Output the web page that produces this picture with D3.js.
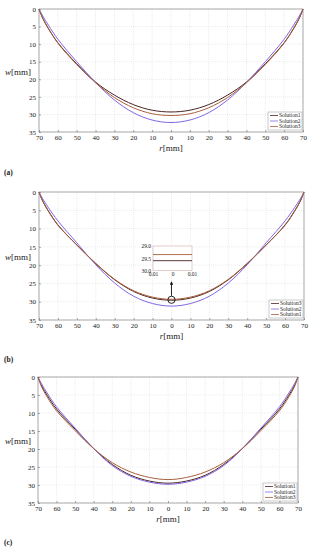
<!DOCTYPE html>
<html>
<head>
<meta charset="utf-8">
<script src="https://cdn.jsdelivr.net/npm/d3@7"></script>
<style>
  body { margin: 0; background: #fff; }
  svg text { font-family: "Liberation Serif", "DejaVu Serif", serif; }
</style>
</head>
<body>
<div id="chart"></div>
<script>
// radius positions (mm), shared by all curves
var rVals = [-70, -68, -65, -60, -50, -40, -30, -20, -10, 0, 10, 20, 30, 40, 50, 60, 65, 68, 70];
var xTicks = [-70, -60, -50, -40, -30, -20, -10, 0, 10, 20, 30, 40, 50, 60, 70];
var yTicks = [0, 5, 10, 15, 20, 25, 30, 35];

// deflection w (mm), panel (a)
var a_sol1 = [0, 2.7, 5.6, 9.6, 15.6, 20.8, 24.5, 27.2, 28.8, 29.3, 28.8, 27.2, 24.5, 20.8, 15.6, 9.6, 5.6, 2.7, 0];
var a_sol2 = [0, 2.0, 4.6, 8.6, 15.0, 20.9, 25.9, 29.5, 31.6, 32.3, 31.6, 29.5, 25.9, 20.9, 15.0, 8.6, 4.6, 2.0, 0];
var a_sol3 = [0, 2.6, 5.5, 9.7, 15.8, 21.0, 25.2, 28.1, 29.8, 30.3, 29.8, 28.1, 25.2, 21.0, 15.8, 9.7, 5.5, 2.6, 0];

// panel (b)
var b_sol3 = [0, 2.5, 5.2, 9.0, 14.5, 19.6, 24.0, 27.2, 29.0, 29.6, 29.0, 27.2, 24.0, 19.6, 14.5, 9.0, 5.2, 2.5, 0];
var b_sol2 = [0, 1.9, 4.3, 7.9, 13.9, 19.9, 24.9, 28.5, 30.5, 31.2, 30.5, 28.5, 24.9, 19.9, 13.9, 7.9, 4.3, 1.9, 0];
var b_sol1 = [0, 2.6, 5.3, 9.1, 14.5, 19.5, 23.9, 27.0, 28.75, 29.35, 28.75, 27.0, 23.9, 19.5, 14.5, 9.1, 5.3, 2.6, 0];

// panel (c)
var c_sol1 = [0, 2.5, 5.1, 8.9, 14.5, 19.9, 24.3, 27.3, 28.9, 29.5, 28.9, 27.3, 24.3, 19.9, 14.5, 8.9, 5.1, 2.5, 0];
var c_sol2 = [0, 2.0, 4.5, 8.3, 14.2, 19.9, 24.6, 27.6, 29.2, 29.8, 29.2, 27.6, 24.6, 19.9, 14.2, 8.3, 4.5, 2.0, 0];
var c_sol3 = [0, 2.8, 5.6, 9.4, 14.9, 19.9, 23.8, 26.4, 27.9, 28.5, 27.9, 26.4, 23.8, 19.9, 14.9, 9.4, 5.6, 2.8, 0];

// inset of (b)
var insetXTicks = [-0.01, 0, 0.01];
var insetYTicks = [29.0, 29.5, 30.0];

var cDark = "#4a2424", cPurple = "#8266e4", cBrown = "#a8603c";

var svg = d3.select("#chart").append("svg")
    .attr("width", 310)
    .attr("height", 550);

function drawPanel(p) {
    var x = d3.scaleLinear().domain([-70, 70]).range([p.left, p.right]);
    var y = d3.scaleLinear().domain([0, 35]).range([p.top, p.bottom]);
    var g = svg.append("g");

    // grid
    g.selectAll(".gx").data(xTicks).enter().append("line")
        .attr("x1", d => x(d)).attr("x2", d => x(d))
        .attr("y1", p.top).attr("y2", p.bottom)
        .attr("stroke", "#d8d8d8").attr("stroke-width", 0.5)
        .attr("stroke-dasharray", "1,1");
    g.selectAll(".gy").data(yTicks).enter().append("line")
        .attr("x1", p.left).attr("x2", p.right)
        .attr("y1", d => y(d)).attr("y2", d => y(d))
        .attr("stroke", "#d8d8d8").attr("stroke-width", 0.5)
        .attr("stroke-dasharray", "1,1");

    // axes
    var xAxis = d3.axisBottom(x).tickValues(xTicks).tickSize(-2).tickPadding(3)
        .tickFormat(d => Math.abs(d));
    var gx = g.append("g").attr("transform", "translate(0," + p.bottom + ")").call(xAxis);
    var yAxis = d3.axisLeft(y).tickValues(yTicks).tickSize(-2).tickPadding(3);
    var gy = g.append("g").attr("transform", "translate(" + p.left + ",0)").call(yAxis);
    [gx, gy].forEach(function (a) {
        a.select(".domain").remove();
        a.selectAll("line").attr("stroke", "#555").attr("stroke-width", 0.5);
        a.selectAll("text").attr("font-size", 7).attr("fill", "#222")
            .style("font-family", "Liberation Serif, serif");
    });

    g.append("rect")
        .attr("x", p.left).attr("y", p.top)
        .attr("width", p.right - p.left).attr("height", p.bottom - p.top)
        .attr("fill", "none").attr("stroke", "#777").attr("stroke-width", 0.6);

    // curves
    var line = d3.line()
        .x((d, i) => x(rVals[i]))
        .y(d => y(d))
        .curve(d3.curveCatmullRom.alpha(0.5));
    p.series.forEach(function (s) {
        g.append("path").datum(s.values)
            .attr("d", line)
            .attr("fill", "none")
            .attr("stroke", s.color)
            .attr("stroke-width", 1);
    });

    // labels
    var xl = g.append("text")
        .attr("x", (p.left + p.right) / 2).attr("y", p.bottom + 19)
        .attr("text-anchor", "middle").attr("font-size", 9).attr("fill", "#222");
    xl.append("tspan").attr("font-style", "italic").text("r");
    xl.append("tspan").text("[mm]");
    var yl = g.append("text")
        .attr("x", 5).attr("y", y(17.8) + 3)
        .attr("font-size", 9).attr("fill", "#222");
    yl.append("tspan").attr("font-style", "italic").text("w");
    yl.append("tspan").text("[mm]");

    g.append("text")
        .attr("x", 4).attr("y", p.label_y)
        .attr("font-size", 7.5).attr("font-weight", "bold").attr("fill", "#222")
        .text(p.label);

    // legend
    var lw = 34, lh = 18;
    var lx = p.right - lw - 1, ly = p.bottom - lh - 2;
    g.append("rect")
        .attr("x", lx).attr("y", ly).attr("width", lw).attr("height", lh)
        .attr("fill", "#fff").attr("stroke", "#999").attr("stroke-width", 0.5);
    p.series.forEach(function (s, i) {
        var yy = ly + 3.5 + i * 5.5;
        g.append("line")
            .attr("x1", lx + 2).attr("x2", lx + 10)
            .attr("y1", yy).attr("y2", yy)
            .attr("stroke", s.color).attr("stroke-width", 0.8);
        g.append("text")
            .attr("x", lx + 11).attr("y", yy + 1.8)
            .attr("font-size", 5.5).attr("fill", "#222")
            .text(s.name);
    });
    return { x: x, y: y, g: g };
}

drawPanel({
    left: 39, right: 303, top: 9, bottom: 132, label: "(a)", label_y: 175,
    series: [
        { name: "Solution1", values: a_sol1, color: cDark },
        { name: "Solution2", values: a_sol2, color: cPurple },
        { name: "Solution3", values: a_sol3, color: cBrown }
    ]
});

var pb = drawPanel({
    left: 39, right: 304, top: 192, bottom: 320, label: "(b)", label_y: 362,
    series: [
        { name: "Solution3", values: b_sol3, color: cDark },
        { name: "Solution2", values: b_sol2, color: cPurple },
        { name: "Solution1", values: b_sol1, color: cBrown }
    ]
});

drawPanel({
    left: 38, right: 298, top: 377, bottom: 503, label: "(c)", label_y: 545,
    series: [
        { name: "Solution1", values: c_sol1, color: cDark },
        { name: "Solution2", values: c_sol2, color: cPurple },
        { name: "Solution3", values: c_sol3, color: cBrown }
    ]
});

// zoom circle + arrow on panel (b)
var ci = rVals.indexOf(0);
var cx = pb.x(0), cy = pb.y((b_sol1[ci] + b_sol3[ci]) / 2);
svg.append("circle")
    .attr("cx", cx).attr("cy", cy).attr("r", 3.6)
    .attr("fill", "none").attr("stroke", "#111").attr("stroke-width", 0.9);
svg.append("defs").append("marker")
    .attr("id", "arr").attr("viewBox", "0 0 10 10")
    .attr("refX", 5).attr("refY", 5)
    .attr("markerWidth", 4).attr("markerHeight", 4)
    .attr("orient", "auto")
    .append("path").attr("d", "M0,0L10,5L0,10z").attr("fill", "#111");
svg.append("line")
    .attr("x1", cx).attr("x2", cx)
    .attr("y1", cy - 4).attr("y2", 283)
    .attr("stroke", "#111").attr("stroke-width", 0.9)
    .attr("marker-end", "url(#arr)");

// inset
var ix = d3.scaleLinear().domain([-0.01, 0.01]).range([153, 192]);
var iy = d3.scaleLinear().domain([29.0, 30.0]).range([246, 270.5]);
var ig = svg.append("g");
ig.append("rect")
    .attr("x", 153).attr("y", 246).attr("width", 39).attr("height", 24.5)
    .attr("fill", "#fff").attr("stroke", "#c99").attr("stroke-width", 0.5);
ig.append("g").attr("transform", "translate(0,270.5)")
    .call(d3.axisBottom(ix).tickValues(insetXTicks).tickSize(0).tickPadding(2)
        .tickFormat(d => d === 0 ? "0" : Math.abs(d).toFixed(2)))
    .call(a => a.select(".domain").remove())
    .selectAll("text").attr("font-size", 5.5).attr("fill", "#222")
    .style("font-family", "Liberation Serif, serif");
ig.append("g").attr("transform", "translate(153,0)")
    .call(d3.axisLeft(iy).tickValues(insetYTicks).tickSize(0).tickPadding(2)
        .tickFormat(d3.format(".1f")))
    .call(a => a.select(".domain").remove())
    .selectAll("text").attr("font-size", 5.5).attr("fill", "#222")
    .style("font-family", "Liberation Serif, serif");
[{ v: b_sol1[ci], c: cBrown }, { v: b_sol3[ci], c: cDark }].forEach(function (s) {
    ig.append("line")
        .attr("x1", ix(-0.01)).attr("x2", ix(0.01))
        .attr("y1", iy(s.v)).attr("y2", iy(s.v))
        .attr("stroke", s.c).attr("stroke-width", 0.9);
});
</script>
</body>
</html>
